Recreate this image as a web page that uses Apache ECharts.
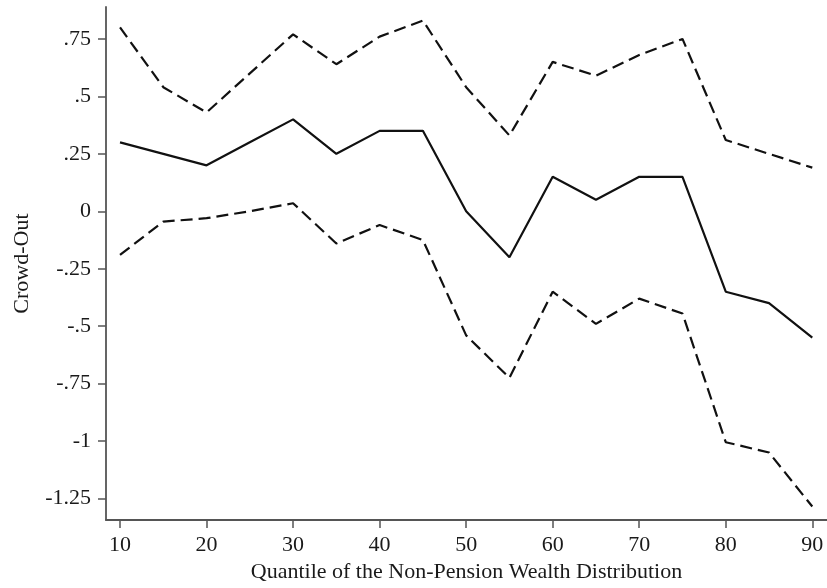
<!DOCTYPE html>
<html><head><meta charset="utf-8">
<script src="https://cdn.jsdelivr.net/npm/echarts@6/dist/echarts.min.js"></script>
<style>html,body{margin:0;padding:0;background:#fff}#c{width:827px;height:588px}</style>
</head><body><div id="c"></div>
<script>
const quantiles = [10,15,20,25,30,35,40,45,50,55,60,65,70,75,80,85,90];
const estimate  = [0.30,0.25,0.20,0.30,0.40,0.25,0.35,0.35,0.00,-0.20,0.15,0.05,0.15,0.15,-0.35,-0.40,-0.55];
const upperCI   = [0.80,0.54,0.43,0.60,0.77,0.64,0.76,0.83,0.54,0.33,0.65,0.59,0.68,0.75,0.31,0.25,0.19];
const lowerCI   = [-0.19,-0.045,-0.03,0.00,0.035,-0.14,-0.06,-0.125,-0.54,-0.725,-0.35,-0.49,-0.38,-0.445,-1.005,-1.05,-1.285];
const xTicks = [10,20,30,40,50,60,70,80,90];
const yTicks = [0.75,0.5,0.25,0,-0.25,-0.5,-0.75,-1,-1.25];

const FONT = '"Liberation Serif", "DejaVu Serif", serif';
const pairs = a => quantiles.map((q,i)=>[q,a[i]]);
const fmtY = v => { if (v===0) return '0'; let s = String(v); return s.replace(/^(-?)0\./,'$1.'); };

const chart = echarts.init(document.getElementById('c'), null, {renderer:'canvas'});
chart.setOption({
  animation:false,
  backgroundColor:'#fff',
  grid:{left:106, right:0, top:7, bottom:66, containLabel:false},
  xAxis:{
    type:'value', min:8.38, max:91.7,
    name:'Quantile of the Non-Pension Wealth Distribution',
    nameLocation:'middle', nameGap:38,
    nameTextStyle:{fontFamily:FONT, fontSize:22, color:'#1a1a1a'},
    axisLine:{show:true, onZero:false, lineStyle:{color:'#555', width:1.8}},
    axisTick:{show:true, length:8, customValues:xTicks, lineStyle:{color:'#555', width:1.5}},
    axisLabel:{customValues:xTicks, margin:14, fontFamily:FONT, fontSize:22, color:'#1a1a1a'},
    splitLine:{show:false}
  },
  yAxis:{
    type:'value', min:-1.344, max:0.889,
    name:'Crowd-Out', nameLocation:'middle', nameGap:73, nameRotate:90,
    nameTextStyle:{fontFamily:FONT, fontSize:22, color:'#1a1a1a'},
    axisLine:{show:true, onZero:false, lineStyle:{color:'#555', width:1.8}},
    axisTick:{show:true, length:8, customValues:yTicks, lineStyle:{color:'#555', width:1.5}},
    axisLabel:{customValues:yTicks, margin:15, fontFamily:FONT, fontSize:22, color:'#1a1a1a', formatter:fmtY},
    splitLine:{show:false}
  },
  series:[
    {type:'line', data:pairs(upperCI), symbol:'none', lineStyle:{color:'#111', width:2.2, type:[12,6]}},
    {type:'line', data:pairs(estimate), symbol:'none', lineStyle:{color:'#111', width:2.2}},
    {type:'line', data:pairs(lowerCI), symbol:'none', lineStyle:{color:'#111', width:2.2, type:[12,6]}}
  ]
});
</script></body></html>
